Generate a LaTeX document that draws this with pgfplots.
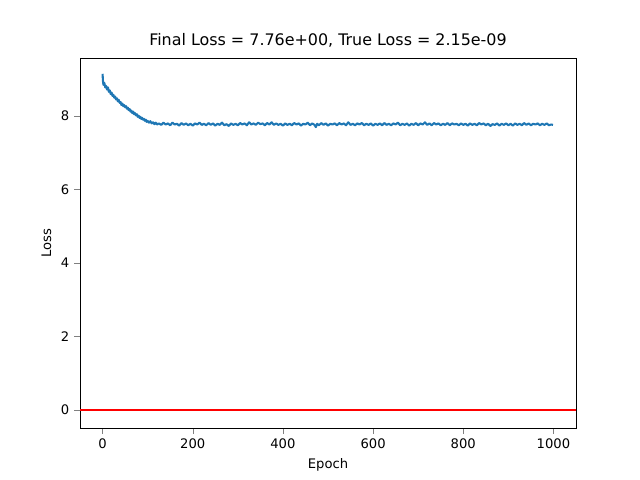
\documentclass[border=0pt]{standalone}
\usepackage{pgfplots}
\pgfplotsset{compat=1.18}
\usepackage{fontspec}
\setmainfont{DejaVu Sans}
\definecolor{mplblue}{HTML}{1F77B4}
\begin{document}
\begin{tikzpicture}
\path[use as bounding box] (-57.6bp,-37.44bp) rectangle (403.2bp,308.16bp);
\begin{axis}[
  at={(0,0)}, anchor=south west, scale only axis,
  width=357.12bp, height=266.4bp,
  xmin=-50, xmax=1050, ymin=-0.49, ymax=9.58,
  xtick={0,200,400,600,800,1000}, ytick={0,2,4,6,8},
  tick align=outside, tick pos=left,
  /pgf/number format/assume math mode=true,
  /pgf/number format/1000 sep={},
  ticklabel style={font=\fontsize{9.5}{12}\selectfont},
  label style={font=\fontsize{9.5}{12}\selectfont},
  xlabel={Epoch}, ylabel={Loss},
  title={Final Loss = 7.76e+00, True Loss = 2.15e-09},
  title style={font=\fontsize{11.5}{14}\selectfont, yshift=-2pt},
]
\addplot[red, line width=1.1pt, forget plot] coordinates {(-50,0) (1050,0)};
\addplot[mplblue, line width=1.5pt, line join=round] coordinates {
(0,9.15)(1,8.95)(2,8.85)(4,8.9)(6,8.78)(8,8.82)(10,8.72)(12,8.78)(14,8.66)(16,8.7)(18,8.6)(20,8.64)(22,8.55)(24,8.58)(26,8.5)(28,8.53)(30,8.45)(32,8.48)(34,8.4)(36,8.44)(38,8.36)(40,8.38)(42,8.3)(44,8.34)(46,8.27)(48,8.3)(50,8.24)(52,8.27)(54,8.2)(56,8.23)(58,8.16)(60,8.19)(62,8.12)(64,8.15)(66,8.08)(68,8.12)(70,8.05)(72,8.08)(74,8.02)(76,8.05)(78,7.98)(80,8.01)(82,7.95)(84,7.98)(86,7.92)(88,7.95)(90,7.9)(92,7.92)(94,7.87)(96,7.9)(98,7.84)(100,7.87)(103,7.82)(106,7.86)(109,7.8)(112,7.83)(115,7.78)(118,7.82)(121,7.77)(125,7.8)(130,7.76)(135,7.82)(140,7.77)(145,7.8)(150,7.75)(155,7.82)(160,7.77)(165,7.79)(170,7.74)(175,7.81)(180,7.76)(185,7.8)(190,7.75)(195,7.79)(200,7.74)(205,7.8)(210,7.77)(215,7.82)(220,7.76)(225,7.79)(230,7.75)(235,7.81)(240,7.76)(245,7.8)(250,7.74)(255,7.79)(260,7.76)(265,7.82)(270,7.75)(275,7.78)(280,7.73)(285,7.8)(290,7.76)(295,7.79)(300,7.75)(305,7.81)(310,7.77)(315,7.8)(320,7.75)(325,7.83)(330,7.77)(335,7.8)(340,7.76)(345,7.82)(350,7.78)(355,7.8)(360,7.75)(365,7.81)(370,7.77)(375,7.83)(380,7.76)(385,7.8)(390,7.76)(395,7.79)(400,7.74)(405,7.8)(410,7.76)(415,7.79)(420,7.75)(425,7.81)(430,7.77)(435,7.8)(440,7.74)(445,7.79)(450,7.77)(455,7.82)(460,7.75)(465,7.8)(470,7.76)(473,7.7)(476,7.79)(480,7.75)(485,7.81)(490,7.76)(495,7.8)(500,7.74)(505,7.79)(510,7.77)(515,7.8)(520,7.75)(525,7.81)(530,7.77)(535,7.8)(540,7.75)(545,7.83)(550,7.76)(555,7.79)(560,7.75)(565,7.8)(570,7.77)(575,7.81)(580,7.75)(585,7.79)(590,7.76)(595,7.8)(600,7.74)(605,7.79)(610,7.76)(615,7.8)(620,7.75)(625,7.81)(630,7.76)(635,7.79)(640,7.75)(645,7.8)(650,7.77)(655,7.82)(660,7.75)(665,7.79)(670,7.76)(675,7.8)(680,7.74)(685,7.79)(690,7.76)(695,7.81)(700,7.75)(705,7.8)(710,7.77)(715,7.83)(720,7.76)(725,7.8)(730,7.75)(735,7.81)(740,7.77)(745,7.8)(750,7.75)(755,7.79)(760,7.76)(765,7.81)(770,7.75)(775,7.8)(780,7.77)(785,7.79)(790,7.75)(795,7.8)(800,7.76)(805,7.79)(810,7.74)(815,7.8)(820,7.76)(825,7.79)(830,7.75)(835,7.81)(840,7.77)(845,7.8)(850,7.75)(855,7.79)(860,7.73)(865,7.78)(870,7.76)(875,7.8)(880,7.74)(885,7.79)(890,7.76)(895,7.8)(900,7.75)(905,7.79)(910,7.74)(915,7.8)(920,7.76)(925,7.79)(930,7.75)(935,7.81)(940,7.76)(945,7.8)(950,7.75)(955,7.79)(960,7.77)(965,7.8)(970,7.75)(975,7.79)(980,7.76)(985,7.8)(990,7.75)(995,7.77)(999,7.76)
};
\end{axis}
\end{tikzpicture}
\end{document}
